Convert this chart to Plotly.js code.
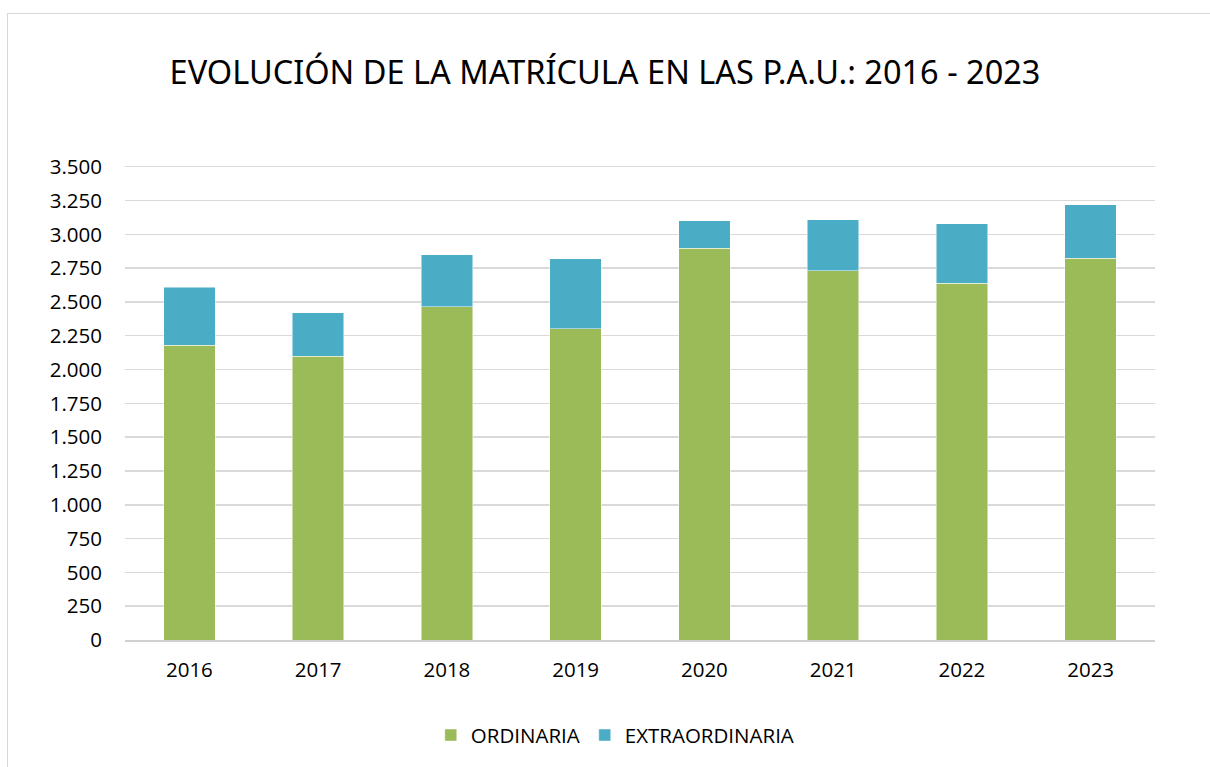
<!DOCTYPE html>
<html>
<head>
<meta charset="utf-8">
<script src="https://cdn.plot.ly/plotly-3.0.1.min.js"></script>
<style>
html,body{margin:0;padding:0;background:#fff;}
#chart{width:1210px;height:767px;position:absolute;left:0;top:0;}
#frame{position:absolute;left:7px;top:13px;width:1220px;height:780px;border:1.5px solid #d9d9d9;pointer-events:none;}
</style>
</head>
<body>
<div id="chart"></div>
<div id="frame"></div>
<script>
const years = ["2016","2017","2018","2019","2020","2021","2022","2023"];
const ordinaria = [2180, 2100, 2465, 2300, 2897, 2730, 2640, 2823];
const extraordinaria = [430, 320, 385, 520, 202, 376, 437, 397];
const yTicks = [0,250,500,750,1000,1250,1500,1750,2000,2250,2500,2750,3000,3250,3500];

const traces = [
  {type:"bar", name:"ORDINARIA", x:years, y:ordinaria,
   marker:{color:"#9BBB59", line:{color:"rgba(255,255,255,0.6)", width:0.8}}},
  {type:"bar", name:"EXTRAORDINARIA", x:years, y:extraordinaria,
   marker:{color:"#4BACC6", line:{color:"rgba(255,255,255,0.6)", width:0.8}}}
];

const layout = {
  width:1210, height:767,
  barmode:"stack", bargap:0.6,
  separators:",.",
  paper_bgcolor:"rgba(0,0,0,0)", plot_bgcolor:"#fff",
  margin:{l:125, r:55, t:164, b:127},
  font:{family:"'Open Sans', 'Noto Sans', sans-serif", color:"#000", size:20},
  title:{text:"EVOLUCIÓN DE LA MATRÍCULA EN LAS P.A.U.: 2016 - 2023",
         font:{family:"'Noto Sans', sans-serif", size:32.5, color:"#000"},
         x:0.5, xanchor:"center", y:0.905, yanchor:"middle"},
  xaxis:{type:"category", showgrid:false, showline:true, linecolor:"#d0d0d0", linewidth:1.5,
         ticks:"", tickfont:{size:20.5}, ticklabelstandoff:11},
  yaxis:{range:[0,3520], tickvals:yTicks, tickformat:",.0f", showgrid:true,
         gridcolor:"#d9d9d9", gridwidth:1.5, zeroline:false, showline:false,
         ticks:"", tickfont:{size:20.5}, ticklabelstandoff:22},
  showlegend:true,
  legend:{orientation:"h", x:0.476, xanchor:"center", y:-0.2, yanchor:"middle",
          font:{size:20.5}, traceorder:"normal", itemwidth:30}
};

Plotly.newPlot("chart", traces, layout, {displayModeBar:false, staticPlot:true});
</script>
</body>
</html>
